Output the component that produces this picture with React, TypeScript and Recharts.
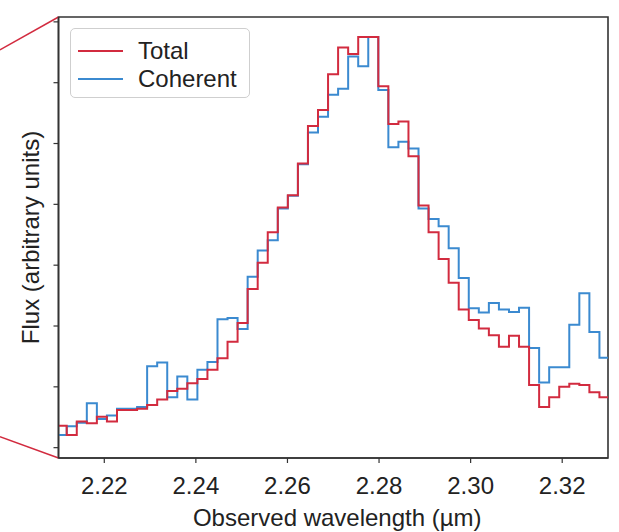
import {
  LineChart,
  Line,
  XAxis,
  YAxis,
  ReferenceLine,
  ReferenceArea,
  Legend,
} from "recharts";

// bin grid of the spectrum (left edge of first bin, bin width in µm)
const binStart = 2.2096;
const binWidth = 0.002195;

const total = [
  0.36, 0.21, 0.43, 0.4, 0.51, 0.43, 0.62, 0.62, 0.64, 0.7, 0.79, 0.93, 0.97,
  1.06, 1.13, 1.28, 1.47, 1.74, 2.05, 2.61, 3.04, 3.54, 3.95, 4.15, 4.67, 5.29,
  5.55, 6.14, 6.58, 6.47, 6.75, 6.75, 5.94, 5.32, 5.36, 4.79, 3.98, 3.54, 3.1,
  2.71, 2.27, 2.1, 1.96, 1.85, 1.66, 1.84, 1.66, 1.03, 0.67, 0.83, 1.0, 1.05,
  1.03, 0.91, 0.83,
];

const coherent = [
  0.21, 0.35, 0.41, 0.73, 0.47, 0.53, 0.64, 0.64, 0.67, 1.34, 1.4, 0.83, 1.17,
  0.79, 1.28, 1.41, 2.11, 2.13, 1.95, 2.81, 3.24, 3.41, 3.93, 4.14, 4.66, 5.18,
  5.44, 5.8, 5.9, 6.43, 6.27, 6.75, 5.88, 4.94, 5.03, 4.92, 3.93, 3.76, 3.64,
  3.28, 2.79, 2.29, 2.22, 2.38, 2.27, 2.23, 2.3, 1.64, 1.07, 1.32, 1.32, 2.02,
  2.54, 1.9, 1.48,
];

const xTicks = [2.22, 2.24, 2.26, 2.28, 2.3, 2.32];
const yTicks = [0, 1, 2, 3, 4, 5, 6, 7];
const xDomain = [2.21, 2.33];
const yDomain = [-0.17, 7.08];

const RED = "#d22b3f";
const BLUE = "#3b8ad0";
const FRAME = "#333333";
const FONT = "'Liberation Sans', Arial, sans-serif";
const FS = 24;

const data = total.map((t, i) => ({
  wl: binStart + i * binWidth,
  total: t,
  coherent: coherent[i],
}));
// closing edge of the last bin so stepAfter draws it
data.push({
  wl: binStart + total.length * binWidth,
  total: total[total.length - 1],
  coherent: coherent[coherent.length - 1],
});

function LegendBox() {
  const items = [
    { name: "Total", color: RED },
    { name: "Coherent", color: BLUE },
  ];
  return (
    <div
      style={{
        border: "1px solid #cfcfcf",
        borderRadius: 5,
        background: "#fff",
        width: 180,
        height: 70,
        boxSizing: "border-box",
        padding: "8px 0 0 7px",
        fontFamily: FONT,
        fontSize: FS,
        color: "#222",
      }}
    >
      {items.map((it) => (
        <div
          key={it.name}
          style={{ display: "flex", alignItems: "center", height: 28 }}
        >
          <span
            style={{
              display: "inline-block",
              width: 45,
              height: 2,
              background: it.color,
              marginRight: 15,
            }}
          />
          <span>{it.name}</span>
        </div>
      ))}
    </div>
  );
}

export default function App() {
  return (
    <div style={{ position: "fixed", left: 0, top: 0, background: "#fff" }}>
      <LineChart
        width={619}
        height={532}
        data={data}
        margin={{ top: 17, right: 11, bottom: 0, left: 0 }}
      >
        <XAxis
          dataKey="wl"
          type="number"
          domain={xDomain}
          allowDataOverflow
          ticks={xTicks}
          tickFormatter={(v) => v.toFixed(2)}
          height={74}
          tickSize={5}
          tickMargin={14}
          axisLine={{ stroke: FRAME, strokeWidth: 1.6 }}
          tickLine={{ stroke: FRAME, strokeWidth: 1.2 }}
          tick={{ fill: "#222", fontSize: FS, fontFamily: FONT }}
          label={{
            value: "Observed wavelength (µm)",
            position: "insideBottom",
            offset: 6,
            dx: 4,
            fill: "#222",
            fontSize: FS,
            fontFamily: FONT,
          }}
        />
        <YAxis
          type="number"
          domain={yDomain}
          allowDataOverflow
          ticks={yTicks}
          tickFormatter={() => ""}
          width={58.5}
          tickSize={5}
          axisLine={{ stroke: FRAME, strokeWidth: 1.6 }}
          tickLine={{ stroke: FRAME, strokeWidth: 1.2 }}
          label={{
            value: "Flux (arbitrary units)",
            angle: -90,
            position: "insideLeft",
            offset: 30,
            style: { textAnchor: "middle" },
            fill: "#222",
            fontSize: FS,
            fontFamily: FONT,
          }}
        />
        {/* plot frame */}
        <ReferenceArea
          x1={xDomain[0]}
          x2={xDomain[1]}
          y1={yDomain[0]}
          y2={yDomain[1]}
          fill="none"
          fillOpacity={0}
          stroke={FRAME}
          strokeWidth={1.6}
          strokeOpacity={1}
          ifOverflow="visible"
        />
        <Line
          dataKey="coherent"
          name="Coherent"
          type="stepAfter"
          stroke={BLUE}
          strokeWidth={2}
          dot={false}
          activeDot={false}
          isAnimationActive={false}
        />
        <Line
          dataKey="total"
          name="Total"
          type="stepAfter"
          stroke={RED}
          strokeWidth={2}
          dot={false}
          activeDot={false}
          isAnimationActive={false}
        />
        {/* zoom connector lines off the left corners */}
        <ReferenceLine
          segment={[
            { x: 2.1972, y: 6.54 },
            { x: 2.21, y: 7.08 },
          ]}
          ifOverflow="visible"
          stroke={RED}
          strokeWidth={1.5}
        />
        <ReferenceLine
          segment={[
            { x: 2.1972, y: 0.18 },
            { x: 2.21, y: -0.17 },
          ]}
          ifOverflow="visible"
          stroke={RED}
          strokeWidth={1.5}
        />
        <Legend
          layout="horizontal"
          verticalAlign="middle"
          align="center"
          content={() => <LegendBox />}
          wrapperStyle={{ left: 70, top: 28, width: 180 }}
        />
      </LineChart>
    </div>
  );
}
